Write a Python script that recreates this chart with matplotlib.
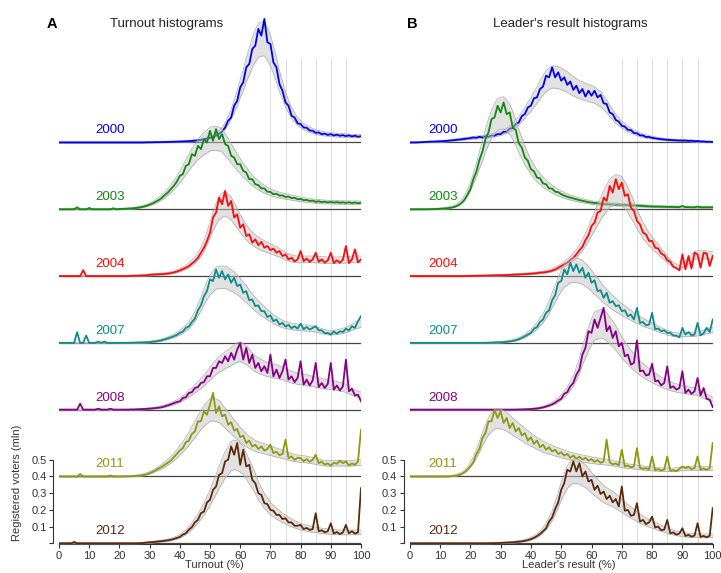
import numpy as np
import pandas as pd
import matplotlib
matplotlib.use("Agg")
import matplotlib.pyplot as plt

plt.rcParams['font.family'] = ['Liberation Sans', 'DejaVu Sans']

# vote share bins (%), one value per 1% bin, in mln registered voters
pct = list(range(0, 101))
years = [2000, 2003, 2004, 2007, 2008, 2011, 2012]
colors = ['#0000f0', '#108a10', '#ff0a0a', '#0f8c8c', '#880088', '#8c9a10', '#5b2a0a']
offset_step = 0.4

turnout_2000 = [
    0, 0, 0, 0, 0, 0, 0, 0, 0, 0,
    0, 0, 0, 0, 0, 0, 0, 0, 0, 0,
    0, 0, 0, 0, 0, 0, 0, 0, 0, 0.001,
    0.001, 0.001, 0.002, 0.002, 0.002, 0.003, 0.003, 0.004, 0.004, 0.005,
    0.005, 0.006, 0.007, 0.008, 0.009, 0.011, 0.013, 0.016, 0.019, 0.023,
    0.028, 0.034, 0.042, 0.052, 0.066, 0.09, 0.13, 0.15, 0.22, 0.25,
    0.33, 0.36, 0.45, 0.47, 0.56, 0.58, 0.68, 0.64, 0.74, 0.60,
    0.59, 0.48, 0.45, 0.35, 0.31, 0.24, 0.22, 0.16, 0.15, 0.115,
    0.11, 0.09, 0.088, 0.072, 0.07, 0.058, 0.06, 0.05, 0.053, 0.045,
    0.05, 0.042, 0.047, 0.04, 0.044, 0.038, 0.043, 0.036, 0.041, 0.034,
    0.038]
turnout_2003 = [
    0, 0, 0, 0, 0, 0, 0.012, 0, 0, 0,
    0.008, 0, 0, 0, 0, 0, 0, 0, 0.006, 0,
    0.002, 0.002, 0.003, 0.004, 0.005, 0.007, 0.009, 0.012, 0.016, 0.021,
    0.028, 0.035, 0.045, 0.055, 0.068, 0.085, 0.10, 0.12, 0.14, 0.165,
    0.20, 0.21, 0.26, 0.27, 0.33, 0.32, 0.38, 0.36, 0.42, 0.40,
    0.47, 0.41, 0.48, 0.42, 0.45, 0.39, 0.38, 0.32, 0.31, 0.27,
    0.27, 0.23, 0.22, 0.18, 0.18, 0.15, 0.145, 0.125, 0.125, 0.105,
    0.104, 0.09, 0.093, 0.082, 0.083, 0.074, 0.076, 0.067, 0.069, 0.06,
    0.062, 0.055, 0.056, 0.05, 0.052, 0.045, 0.048, 0.043, 0.046, 0.041,
    0.044, 0.04, 0.043, 0.039, 0.042, 0.038, 0.042, 0.037, 0.041, 0.036,
    0.04]
turnout_2004 = [
    0, 0, 0, 0, 0, 0, 0, 0, 0.035, 0,
    0, 0, 0, 0, 0, 0, 0, 0, 0, 0,
    0, 0, 0, 0.001, 0.001, 0.002, 0.002, 0.003, 0.004, 0.005,
    0.008, 0.009, 0.01, 0.011, 0.012, 0.013, 0.015, 0.018, 0.022, 0.027,
    0.034, 0.042, 0.05, 0.06, 0.075, 0.09, 0.11, 0.14, 0.17, 0.21,
    0.26, 0.35, 0.38, 0.47, 0.43, 0.51, 0.42, 0.45, 0.35, 0.37,
    0.29, 0.31, 0.24, 0.25, 0.20, 0.22, 0.185, 0.205, 0.17, 0.18,
    0.155, 0.165, 0.14, 0.15, 0.12, 0.13, 0.10, 0.11, 0.088, 0.10,
    0.15, 0.09, 0.105, 0.085, 0.10, 0.14, 0.085, 0.10, 0.08, 0.095,
    0.14, 0.078, 0.095, 0.08, 0.098, 0.18, 0.078, 0.10, 0.16, 0.082,
    0.10]
turnout_2007 = [
    0, 0, 0, 0, 0, 0, 0.064, 0, 0, 0.044,
    0, 0, 0, 0.008, 0, 0.008, 0, 0, 0, 0,
    0, 0, 0, 0, 0.001, 0.001, 0.002, 0.002, 0.003, 0.004,
    0.005, 0.007, 0.009, 0.012, 0.016, 0.021, 0.027, 0.033, 0.04, 0.048,
    0.06, 0.068, 0.09, 0.098, 0.125, 0.145, 0.195, 0.225, 0.28, 0.31,
    0.38, 0.37, 0.44, 0.39, 0.43, 0.38, 0.41, 0.36, 0.39, 0.34,
    0.35, 0.30, 0.31, 0.255, 0.26, 0.22, 0.225, 0.19, 0.19, 0.155,
    0.165, 0.13, 0.14, 0.11, 0.12, 0.098, 0.108, 0.088, 0.10, 0.085,
    0.115, 0.082, 0.095, 0.08, 0.09, 0.10, 0.075, 0.075, 0.058, 0.06,
    0.05, 0.068, 0.055, 0.07, 0.065, 0.085, 0.075, 0.10, 0.09, 0.13,
    0.16]
turnout_2008 = [
    0, 0, 0, 0, 0, 0, 0, 0.036, 0, 0,
    0, 0, 0, 0.006, 0, 0, 0, 0.006, 0, 0,
    0, 0, 0, 0, 0.001, 0.001, 0.002, 0.003, 0.004, 0.005,
    0.006, 0.008, 0.01, 0.012, 0.015, 0.02, 0.026, 0.032, 0.039, 0.046,
    0.05, 0.07, 0.075, 0.10, 0.105, 0.13, 0.135, 0.16, 0.165, 0.20,
    0.20, 0.25, 0.25, 0.29, 0.28, 0.32, 0.29, 0.34, 0.30, 0.36,
    0.40, 0.30, 0.37, 0.28, 0.33, 0.25, 0.28, 0.23, 0.26, 0.22,
    0.33, 0.20, 0.24, 0.19, 0.23, 0.30, 0.18, 0.20, 0.165, 0.19,
    0.29, 0.15, 0.18, 0.145, 0.175, 0.28, 0.135, 0.16, 0.13, 0.155,
    0.28, 0.12, 0.145, 0.115, 0.14, 0.30, 0.11, 0.125, 0.085, 0.09,
    0.05]
turnout_2011 = [
    0, 0, 0, 0, 0, 0, 0, 0.015, 0, 0,
    0, 0, 0, 0, 0, 0, 0, 0.006, 0, 0,
    0, 0, 0.001, 0.001, 0.002, 0.003, 0.004, 0.006, 0.009, 0.013,
    0.02, 0.028, 0.038, 0.048, 0.058, 0.07, 0.082, 0.095, 0.115, 0.135,
    0.155, 0.17, 0.205, 0.215, 0.255, 0.27, 0.33, 0.33, 0.39, 0.37,
    0.43, 0.50, 0.38, 0.42, 0.36, 0.37, 0.31, 0.325, 0.275, 0.285,
    0.235, 0.245, 0.20, 0.215, 0.18, 0.19, 0.165, 0.18, 0.155, 0.165,
    0.19, 0.14, 0.148, 0.128, 0.135, 0.22, 0.11, 0.12, 0.10, 0.112,
    0.11, 0.092, 0.104, 0.088, 0.10, 0.13, 0.08, 0.088, 0.072, 0.078,
    0.065, 0.082, 0.076, 0.095, 0.08, 0.09, 0.066, 0.078, 0.07, 0.09,
    0.28]
turnout_2012 = [
    0, 0, 0, 0, 0, 0.008, 0, 0, 0, 0,
    0, 0, 0, 0, 0, 0, 0, 0, 0, 0,
    0, 0, 0, 0, 0, 0, 0, 0.001, 0.002, 0.004,
    0.006, 0.007, 0.009, 0.011, 0.013, 0.015, 0.018, 0.021, 0.026, 0.032,
    0.038, 0.052, 0.06, 0.082, 0.097, 0.125, 0.14, 0.18, 0.19, 0.245,
    0.26, 0.32, 0.34, 0.41, 0.42, 0.49, 0.50, 0.58, 0.53, 0.60,
    0.47, 0.56, 0.46, 0.47, 0.38, 0.36, 0.30, 0.29, 0.24, 0.235,
    0.20, 0.195, 0.17, 0.17, 0.145, 0.15, 0.125, 0.125, 0.105, 0.105,
    0.11, 0.085, 0.092, 0.08, 0.085, 0.18, 0.072, 0.078, 0.066, 0.072,
    0.12, 0.058, 0.068, 0.055, 0.065, 0.11, 0.06, 0.072, 0.058, 0.065,
    0.33]

leader_2000 = [
    0, 0, 0, 0.001, 0.002, 0.003, 0.004, 0.005, 0.005, 0.006,
    0.007, 0.008, 0.009, 0.011, 0.013, 0.015, 0.017, 0.019, 0.021, 0.024,
    0.026, 0.03, 0.028, 0.034, 0.03, 0.037, 0.034, 0.042, 0.041, 0.05,
    0.05, 0.064, 0.065, 0.083, 0.086, 0.11, 0.12, 0.158, 0.17, 0.21,
    0.22, 0.265, 0.27, 0.32, 0.335, 0.40, 0.39, 0.45, 0.39, 0.42,
    0.37, 0.39, 0.345, 0.365, 0.315, 0.34, 0.295, 0.32, 0.275, 0.31,
    0.28, 0.31, 0.27, 0.285, 0.235, 0.23, 0.18, 0.17, 0.135, 0.125,
    0.10, 0.095, 0.076, 0.074, 0.057, 0.055, 0.043, 0.042, 0.033, 0.033,
    0.028, 0.025, 0.022, 0.02, 0.018, 0.016, 0.015, 0.014, 0.013, 0.012,
    0.011, 0.012, 0.009, 0.011, 0.008, 0.009, 0.006, 0.006, 0.004, 0.004,
    0.002]
leader_2003 = [
    0, 0, 0, 0, 0, 0, 0, 0.001, 0.001, 0.002,
    0.003, 0.004, 0.006, 0.008, 0.011, 0.016, 0.024, 0.036, 0.055, 0.085,
    0.12, 0.18, 0.225, 0.295, 0.345, 0.42, 0.46, 0.54, 0.55, 0.62,
    0.58, 0.64, 0.57, 0.58, 0.49, 0.475, 0.395, 0.37, 0.31, 0.29,
    0.24, 0.228, 0.19, 0.186, 0.155, 0.15, 0.125, 0.124, 0.105, 0.103,
    0.09, 0.082, 0.075, 0.07, 0.065, 0.06, 0.055, 0.051, 0.047, 0.043,
    0.04, 0.038, 0.036, 0.034, 0.032, 0.031, 0.03, 0.029, 0.028, 0.028,
    0.027, 0.026, 0.025, 0.024, 0.023, 0.022, 0.021, 0.02, 0.019, 0.018,
    0.017, 0.016, 0.016, 0.015, 0.015, 0.014, 0.014, 0.014, 0.013, 0.013,
    0.02, 0.013, 0.013, 0.012, 0.012, 0.016, 0.012, 0.012, 0.012, 0.012,
    0.012]
leader_2004 = [
    0, 0, 0, 0, 0, 0, 0, 0, 0, 0,
    0, 0, 0, 0, 0, 0, 0, 0, 0, 0.001,
    0.001, 0.001, 0.002, 0.002, 0.002, 0.003, 0.003, 0.004, 0.004, 0.005,
    0.005, 0.006, 0.006, 0.007, 0.008, 0.009, 0.01, 0.011, 0.012, 0.013,
    0.014, 0.016, 0.018, 0.02, 0.022, 0.024, 0.028, 0.033, 0.04, 0.05,
    0.06, 0.07, 0.08, 0.095, 0.11, 0.13, 0.155, 0.175, 0.215, 0.245,
    0.30, 0.32, 0.38, 0.39, 0.47, 0.45, 0.54, 0.50, 0.58, 0.52,
    0.56, 0.48, 0.49, 0.41, 0.39, 0.33, 0.31, 0.26, 0.25, 0.21,
    0.21, 0.17, 0.165, 0.135, 0.125, 0.095, 0.085, 0.055, 0.048, 0.034,
    0.13, 0.04, 0.12, 0.045, 0.14, 0.13, 0.05, 0.14, 0.135, 0.06,
    0.12]
leader_2007 = [
    0, 0, 0, 0, 0, 0, 0, 0, 0, 0,
    0, 0, 0, 0, 0, 0, 0, 0, 0, 0,
    0, 0, 0, 0, 0, 0, 0.001, 0.001, 0.002, 0.003,
    0.004, 0.005, 0.007, 0.009, 0.012, 0.016, 0.022, 0.03, 0.04, 0.05,
    0.06, 0.085, 0.095, 0.125, 0.14, 0.18, 0.195, 0.255, 0.285, 0.36,
    0.37, 0.44, 0.41, 0.48, 0.43, 0.47, 0.42, 0.45, 0.39, 0.42,
    0.36, 0.375, 0.31, 0.315, 0.27, 0.30, 0.24, 0.25, 0.22, 0.225,
    0.19, 0.195, 0.16, 0.17, 0.14, 0.21, 0.12, 0.125, 0.105, 0.11,
    0.18, 0.082, 0.086, 0.07, 0.075, 0.06, 0.06, 0.045, 0.043, 0.033,
    0.09, 0.05, 0.065, 0.045, 0.05, 0.12, 0.045, 0.058, 0.09, 0.065,
    0.14]
leader_2008 = [
    0, 0, 0, 0, 0, 0, 0, 0, 0, 0,
    0, 0, 0, 0, 0, 0, 0, 0, 0, 0,
    0, 0, 0, 0, 0, 0, 0, 0, 0, 0,
    0, 0, 0, 0, 0, 0, 0.001, 0.001, 0.002, 0.003,
    0.004, 0.005, 0.007, 0.01, 0.014, 0.019, 0.025, 0.032, 0.042, 0.055,
    0.065, 0.095, 0.105, 0.14, 0.16, 0.21, 0.24, 0.33, 0.37, 0.47,
    0.46, 0.54, 0.49, 0.55, 0.61, 0.47, 0.50, 0.43, 0.47, 0.38,
    0.40, 0.32, 0.33, 0.27, 0.28, 0.415, 0.23, 0.235, 0.205, 0.21,
    0.275, 0.17, 0.175, 0.145, 0.16, 0.26, 0.13, 0.14, 0.12, 0.13,
    0.23, 0.10, 0.12, 0.095, 0.11, 0.19, 0.085, 0.13, 0.065, 0.06,
    0.016]
leader_2011 = [
    0, 0, 0, 0, 0, 0, 0, 0, 0, 0,
    0, 0, 0, 0.001, 0.002, 0.004, 0.008, 0.014, 0.024, 0.04,
    0.06, 0.085, 0.135, 0.165, 0.23, 0.26, 0.33, 0.33, 0.40, 0.35,
    0.39, 0.32, 0.35, 0.29, 0.32, 0.27, 0.29, 0.245, 0.26, 0.215,
    0.235, 0.195, 0.215, 0.175, 0.19, 0.16, 0.175, 0.15, 0.16, 0.135,
    0.145, 0.125, 0.135, 0.112, 0.125, 0.107, 0.118, 0.102, 0.112, 0.095,
    0.104, 0.088, 0.098, 0.082, 0.09, 0.22, 0.085, 0.072, 0.078, 0.066,
    0.16, 0.06, 0.066, 0.055, 0.06, 0.17, 0.052, 0.046, 0.05, 0.042,
    0.12, 0.038, 0.044, 0.036, 0.042, 0.12, 0.034, 0.038, 0.032, 0.045,
    0.06, 0.05, 0.058, 0.044, 0.05, 0.12, 0.042, 0.048, 0.04, 0.05,
    0.20]
leader_2012 = [
    0, 0, 0, 0, 0, 0, 0, 0, 0, 0,
    0, 0, 0, 0, 0, 0, 0, 0, 0, 0,
    0, 0, 0, 0, 0, 0, 0, 0.001, 0.001, 0.002,
    0.002, 0.003, 0.004, 0.005, 0.006, 0.008, 0.01, 0.012, 0.015, 0.019,
    0.025, 0.033, 0.043, 0.056, 0.072, 0.09, 0.13, 0.155, 0.205, 0.245,
    0.32, 0.36, 0.44, 0.43, 0.49, 0.43, 0.48, 0.40, 0.43, 0.37,
    0.38, 0.32, 0.345, 0.295, 0.31, 0.265, 0.285, 0.245, 0.265, 0.22,
    0.34, 0.195, 0.2, 0.165, 0.17, 0.24, 0.13, 0.14, 0.115, 0.125,
    0.16, 0.095, 0.1, 0.078, 0.082, 0.14, 0.06, 0.065, 0.052, 0.058,
    0.09, 0.044, 0.05, 0.04, 0.046, 0.12, 0.038, 0.044, 0.036, 0.045,
    0.21]

turnout = [turnout_2000, turnout_2003, turnout_2004, turnout_2007,
           turnout_2008, turnout_2011, turnout_2012]
leader = [leader_2000, leader_2003, leader_2004, leader_2007,
          leader_2008, leader_2011, leader_2012]

grid_pct = [70, 75, 80, 85, 90, 95]
y_ticks = [0, 0.1, 0.2, 0.3, 0.4, 0.5]


def envelope(vals):
    # smooth trend (median to drop spikes, then running mean) +/- spread
    s = pd.Series(vals).rolling(5, center=True, min_periods=1).median()
    s = s.rolling(5, center=True, min_periods=1).mean().to_numpy()
    w = 0.16 * s + 0.004
    return s - w, s + w


def draw_panel(ax, series, label_x, xlabel, xlabel_pos):
    x = np.array(pct)
    ax.vlines(grid_pct, 0, 2.9, color='#d6d6d6', lw=0.6, zorder=0)
    n = len(series)
    for i, (year, col, vals) in enumerate(zip(years, colors, series)):
        base = offset_step * (n - 1 - i)
        v = np.array(vals)
        lo, hi = envelope(v)
        z = 1 + i
        ax.plot([0, 100], [base, base], color='#444444', lw=0.9, zorder=z)
        ax.fill_between(x, base + lo, base + hi, color='#c4c4c4', alpha=0.5,
                        lw=0, zorder=z + 0.1)
        ax.plot(x, base + lo, color='#aaaaaa', lw=0.5, zorder=z + 0.2)
        ax.plot(x, base + hi, color='#aaaaaa', lw=0.5, zorder=z + 0.2)
        ax.plot(x, base + v, color=col, lw=1.3, zorder=z + 0.3)
        ax.text(label_x, base + 0.055, str(year), color=col, fontsize=9.5,
                ha='left', va='baseline', zorder=20)

    ax.set_xlim(0, 100)
    ax.set_ylim(-0.006, 3.2)
    for side in ['top', 'right']:
        ax.spines[side].set_visible(False)
    ax.spines['left'].set_position(('outward', 4))
    ax.spines['left'].set_bounds(0, 0.5)
    ax.spines['bottom'].set_bounds(0, 100)
    for side in ['left', 'bottom']:
        ax.spines[side].set_color('#333333')
        ax.spines[side].set_linewidth(0.8)
    ax.set_xticks(range(0, 101, 10))
    ax.set_yticks(y_ticks)
    ax.set_yticklabels([''] + [f'{t:.1f}' for t in y_ticks[1:]])
    ax.tick_params(direction='out', length=3, width=0.8, colors='#333333',
                   labelsize=8, pad=2)
    ax.set_xlabel(xlabel, fontsize=8, color='#333333')
    ax.xaxis.set_label_coords(xlabel_pos, -0.0295)
    ax.xaxis.label.set_va('top')
    ax.patch.set_alpha(0)


fig = plt.figure(figsize=(7.21, 5.73), dpi=100)
axA = fig.add_axes([59 / 721, 0.0501, 302 / 721, 0.9344])
axB = fig.add_axes([409.7 / 721, 0.0501, 303 / 721, 0.9344])

draw_panel(axA, turnout, 12, 'Turnout (%)', 0.513)
draw_panel(axB, leader, 6, "Leader's result (%)", 0.526)

fig.text(46.7 / 721, 1 - 28.3 / 573, 'A', fontsize=10.5, fontweight='bold',
         ha='left', va='baseline')
fig.text(110 / 721, 1 - 27.5 / 573, 'Turnout histograms', fontsize=9.5,
         color='#222222', ha='left', va='baseline')
fig.text(406.7 / 721, 1 - 28.3 / 573, 'B', fontsize=10.5, fontweight='bold',
         ha='left', va='baseline')
fig.text(493.3 / 721, 1 - 27.5 / 573, "Leader's result histograms",
         fontsize=9.5, color='#222222', ha='left', va='baseline')
fig.text(17.5 / 721, 1 - 483 / 573, 'Registered voters (mln)', fontsize=8,
         color='#333333', rotation=90, ha='center', va='center')

fig.savefig('out.png', dpi=100)
